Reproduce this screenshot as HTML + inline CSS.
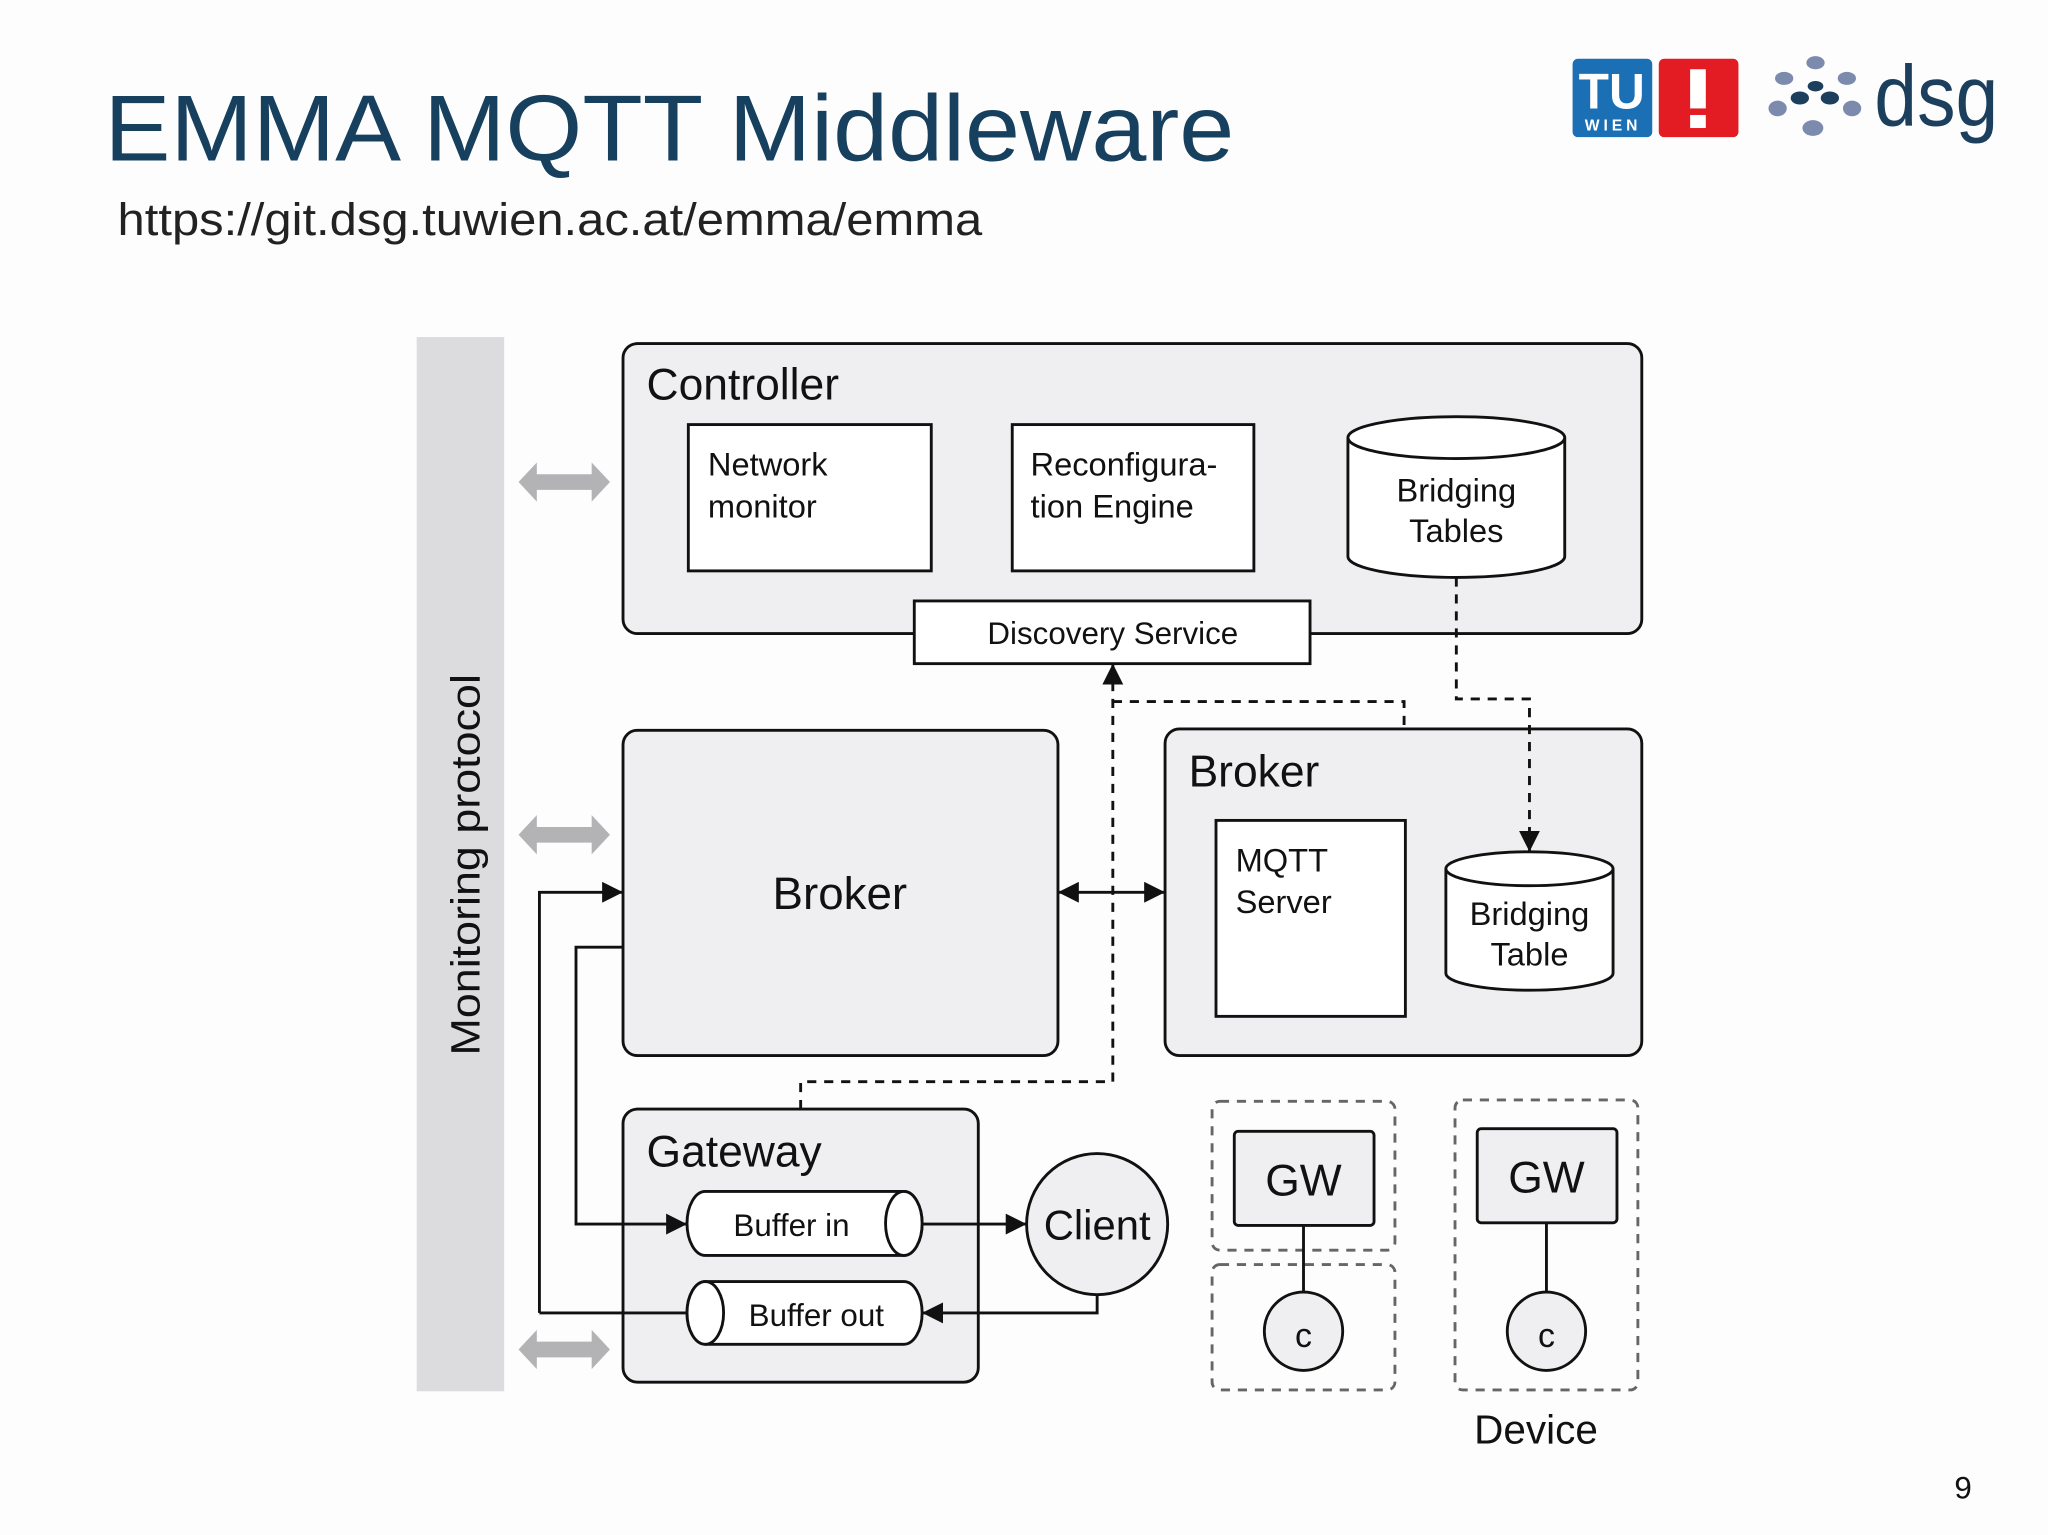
<!DOCTYPE html>
<html><head><meta charset="utf-8"><style>
html,body{margin:0;padding:0;background:#fdfdfd;}
svg{display:block}
text{font-family:"Liberation Sans","DejaVu Sans",sans-serif;}
</style></head><body>
<svg width="2048" height="1535" viewBox="0 0 1568 1175" preserveAspectRatio="none" xmlns="http://www.w3.org/2000/svg">
<defs>
<marker id="a" viewBox="0 0 10 10" refX="10" refY="5" markerWidth="16" markerHeight="16" orient="auto-start-reverse" markerUnits="userSpaceOnUse"><path d="M0,0 L10,5 L0,10 z" fill="#111"/></marker>
<g id="garrow"><path d="M0,0 L14,-15 L14,-6 L56,-6 L56,-15 L70,0 L56,15 L56,6 L14,6 L14,15 z" fill="#b3b2b5"/></g>
</defs>
<rect width="1568" height="1175" fill="#fdfdfd"/>
<text x="80" y="123" font-size="72" fill="#17405f" textLength="865" lengthAdjust="spacingAndGlyphs">EMMA MQTT Middleware</text>
<text x="90" y="180" font-size="35" fill="#222" textLength="662" lengthAdjust="spacingAndGlyphs">https://git.dsg.tuwien.ac.at/emma/emma</text>
<rect x="1204" y="45" width="61" height="60" rx="4" fill="#1a6fb5"/>
<text x="1234" y="83" font-size="38" font-weight="bold" fill="#fff" text-anchor="middle">TU</text>
<text x="1235" y="100" font-size="12" font-weight="bold" fill="#fff" text-anchor="middle" letter-spacing="3">WIEN</text>
<rect x="1270" y="45" width="61" height="60" rx="4" fill="#e31b23"/>
<rect x="1294" y="53" width="12" height="30" fill="#fff"/><rect x="1294" y="88" width="12" height="10" fill="#fff"/>
<g fill="#7c8bad"><ellipse cx="1390" cy="48" rx="7" ry="5"/><ellipse cx="1366" cy="60" rx="7" ry="5"/><ellipse cx="1414" cy="60" rx="7" ry="5"/><ellipse cx="1361" cy="83" rx="7" ry="6"/><ellipse cx="1418" cy="83" rx="7" ry="6"/><ellipse cx="1388" cy="98" rx="8" ry="6"/></g>
<g fill="#1b3f5c"><ellipse cx="1390" cy="66" rx="6" ry="4"/><ellipse cx="1378" cy="75" rx="7" ry="5"/><ellipse cx="1401" cy="75" rx="7" ry="5"/></g>
<text x="1435" y="96" font-size="66" fill="#1b3f5c" textLength="95" lengthAdjust="spacingAndGlyphs">dsg</text>
<rect x="319" y="258" width="67" height="807" fill="#dcdbde"/>
<text transform="translate(367,662) rotate(-90)" font-size="31" fill="#111" text-anchor="middle" textLength="292" lengthAdjust="spacingAndGlyphs">Monitoring protocol</text>
<use href="#garrow" x="397" y="369"/><use href="#garrow" x="397" y="639"/><use href="#garrow" x="397" y="1033"/>
<g stroke="#111" stroke-width="2.2">
<rect x="477" y="263" width="780" height="222" rx="11" fill="#efeef1"/>
<rect x="527" y="325" width="186" height="112" fill="#fff"/>
<rect x="775" y="325" width="185" height="112" fill="#fff"/>
<path d="M1032,335 L1032,426 A83,16 0 0 0 1198,426 L1198,335" fill="#fff"/>
<ellipse cx="1115" cy="335" rx="83" ry="16" fill="#fff"/>
<rect x="700" y="460" width="303" height="48" fill="#fff"/>
<rect x="477" y="559" width="333" height="249" rx="11" fill="#efeef1"/>
<rect x="892" y="558" width="365" height="250" rx="11" fill="#efeef1"/>
<rect x="931" y="628" width="145" height="150" fill="#fff"/>
<path d="M1107,665 L1107,745 A64,13 0 0 0 1235,745 L1235,665" fill="#fff"/>
<ellipse cx="1171" cy="665" rx="64" ry="13" fill="#fff"/>
<rect x="477" y="849" width="272" height="209" rx="11" fill="#efeef1"/>
<path d="M540,912 L692,912 A14,24.5 0 0 1 692,961 L540,961 A14,24.5 0 0 1 540,912 z" fill="#fff"/>
<ellipse cx="692" cy="936.5" rx="14" ry="24.5" fill="#fff"/>
<path d="M540,981 L692,981 A14,24 0 0 1 692,1029 L540,1029 A14,24 0 0 1 540,981 z" fill="#fff"/>
<ellipse cx="540" cy="1005" rx="14" ry="24" fill="#fff"/>
<circle cx="840" cy="937" r="54" fill="#efeef1"/>
<path d="M810,683 L892,683" fill="none" marker-start="url(#a)" marker-end="url(#a)"/>
<path d="M413,1005 L413,683 L477,683" fill="none" marker-end="url(#a)"/>
<path d="M413,1005 L526,1005" fill="none"/>
<path d="M477,725 L441,725 L441,937 L526,937" fill="none" marker-end="url(#a)"/>
<path d="M706,937 L786,937" fill="none" marker-end="url(#a)"/>
<path d="M840,991 L840,1005 L706,1005" fill="none" marker-end="url(#a)"/>
<g stroke-dasharray="7,6" fill="none">
<path d="M613,849 L613,828 L852,828 L852,508" marker-end="url(#a)"/>
<path d="M852,537 L1075,537 L1075,558"/>
<path d="M1115,442 L1115,535 L1171,535 L1171,652" marker-end="url(#a)"/>
</g>
<g stroke="#666" stroke-dasharray="7,6" fill="none">
<rect x="928" y="843" width="140" height="114" rx="6"/>
<rect x="928" y="968" width="140" height="96" rx="6"/>
<rect x="1114" y="842" width="140" height="222" rx="6"/>
</g>
<path d="M998,938 L998,989 M1184,936 L1184,989" fill="none"/>
<rect x="945" y="866" width="107" height="72" rx="3" fill="#efeef1"/>
<rect x="1131" y="864" width="107" height="72" rx="3" fill="#efeef1"/>
<circle cx="998" cy="1019" r="30" fill="#efeef1"/>
<circle cx="1184" cy="1019" r="30" fill="#efeef1"/>
</g>
<g fill="#111">
<text x="495" y="306" font-size="34">Controller</text>
<text x="542" y="364" font-size="25">Network</text>
<text x="542" y="396" font-size="25">monitor</text>
<text x="789" y="364" font-size="25">Reconfigura-</text>
<text x="789" y="396" font-size="25">tion Engine</text>
<text x="1115" y="384" font-size="25" text-anchor="middle">Bridging</text>
<text x="1115" y="415" font-size="25" text-anchor="middle">Tables</text>
<text x="852" y="493" font-size="24" text-anchor="middle">Discovery Service</text>
<text x="643" y="696" font-size="35" text-anchor="middle">Broker</text>
<text x="910" y="602" font-size="34">Broker</text>
<text x="946" y="667" font-size="25">MQTT</text>
<text x="946" y="699" font-size="25">Server</text>
<text x="1171" y="708" font-size="25" text-anchor="middle">Bridging</text>
<text x="1171" y="739" font-size="25" text-anchor="middle">Table</text>
<text x="495" y="893" font-size="34">Gateway</text>
<text x="606" y="946" font-size="24" text-anchor="middle">Buffer in</text>
<text x="625" y="1015" font-size="24" text-anchor="middle">Buffer out</text>
<text x="840" y="949" font-size="32" text-anchor="middle">Client</text>
<text x="998" y="915" font-size="34" text-anchor="middle">GW</text>
<text x="1184" y="913" font-size="34" text-anchor="middle">GW</text>
<text x="998" y="1031" font-size="26" text-anchor="middle">c</text>
<text x="1184" y="1031" font-size="26" text-anchor="middle">c</text>
<text x="1176" y="1105" font-size="31" text-anchor="middle">Device</text>
<text x="1503" y="1147" font-size="24" text-anchor="middle">9</text>
</g>
</svg>
</body></html>
